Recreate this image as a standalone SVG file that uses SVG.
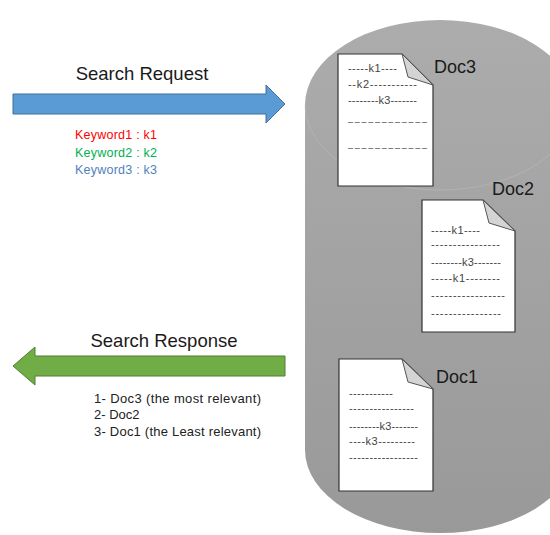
<svg xmlns="http://www.w3.org/2000/svg" width="550" height="535" viewBox="0 0 550 535">
  <defs>
    <linearGradient id="drum" x1="0" y1="0" x2="0" y2="1">
      <stop offset="0" stop-color="#acacac"/>
      <stop offset="1" stop-color="#999999"/>
    </linearGradient>
  </defs>
  <style>
    .title { font-family: "Liberation Sans", Arial, sans-serif; font-size: 18.5px; fill: #1a1a1a; }
    .kw { font-family: "Liberation Sans", Arial, sans-serif; font-size: 12.5px; }
    .list { font-family: "Liberation Sans", Arial, sans-serif; font-size: 13px; fill: #222; }
    .page { fill: #ffffff; stroke: #333333; stroke-width: 1.2; }
    .fold { fill: #d4d4d4; stroke: #555555; stroke-width: 1; }
    .line { font-family: "Liberation Sans", Arial, sans-serif; font-size: 11px; fill: #444; }
    .rule { font-family: "Liberation Sans", Arial, sans-serif; font-size: 9px; fill: #444; }
    .label { font-family: "Liberation Sans", Arial, sans-serif; font-size: 18px; fill: #1a1a1a; }
  </style>

  <!-- storage drum -->
  <g id="store">
    <path d="M305,105 A135,85 0 0 1 575,105 V450 A135,83 0 0 1 305,450 Z" fill="url(#drum)"/>
    <path d="M305,105 A135,85 0 0 0 575,105" fill="none" stroke="#bdbdbd" stroke-width="1" opacity="0.5"/>
  </g>

  <!-- arrows -->
  <g id="connectors">
    <path id="request-arrow" d="M13,94 H266 V85 L285,104 L266,123 V114 H13 Z" fill="#5b9bd5" stroke="#41719c" stroke-width="1"/>
    <path id="response-arrow" d="M285,356 H35 V347 L13,366 L35,385 V376 H285 Z" fill="#70ad47" stroke="#507e32" stroke-width="1"/>
  </g>

  <g id="request-label">
    <text class="title" x="142" y="80" text-anchor="middle">Search Request</text>
    <text class="kw" x="75" y="139" fill="#ff0000" textLength="82" lengthAdjust="spacing">Keyword1 : k1</text>
    <text class="kw" x="75" y="157" fill="#00b050" textLength="82" lengthAdjust="spacing">Keyword2 : k2</text>
    <text class="kw" x="75" y="174" fill="#4f81bd" textLength="82" lengthAdjust="spacing">Keyword3 : k3</text>
  </g>

  <g id="response-label">
    <text class="title" x="164" y="347" text-anchor="middle">Search Response</text>
    <text class="list" x="94" y="403" textLength="167" lengthAdjust="spacing">1- Doc3 (the most relevant)</text>
    <text class="list" x="94" y="419">2- Doc2</text>
    <text class="list" x="94" y="436" textLength="167" lengthAdjust="spacing">3- Doc1 (the Least relevant)</text>
  </g>

  <!-- Doc3 -->
  <g id="doc3">
    <path class="page" d="M338,54 H402 L433,85 V186 H338 Z"/>
    <path class="fold" d="M402,54 L408,77 L433,85 Z"/>
    <text class="line" x="348" y="72" textLength="49" lengthAdjust="spacing">-----k1----</text>
    <text class="line" x="348" y="88" textLength="69" lengthAdjust="spacing">--k2-----------</text>
    <text class="line" x="348" y="104" textLength="69" lengthAdjust="spacing">--------k3-------</text>
    <text class="rule" x="348" y="125" textLength="79" lengthAdjust="spacing">––––––––––––</text>
    <text class="rule" x="348" y="151" textLength="79" lengthAdjust="spacing">––––––––––––</text>
    <text class="label" x="434" y="73">Doc3</text>
  </g>

  <!-- Doc2 -->
  <g id="doc2">
    <path class="page" d="M422,200 H483 L515,231 V332 H422 Z"/>
    <path class="fold" d="M483,200 L489,223 L515,231 Z"/>
    <text class="line" x="431" y="234" textLength="49" lengthAdjust="spacing">-----k1----</text>
    <text class="line" x="431" y="248" textLength="69" lengthAdjust="spacing">----------------</text>
    <text class="line" x="431" y="266" textLength="70" lengthAdjust="spacing">--------k3-------</text>
    <text class="line" x="431" y="282" textLength="69" lengthAdjust="spacing">-----k1--------</text>
    <text class="line" x="431" y="299" textLength="74" lengthAdjust="spacing">-----------------</text>
    <text class="line" x="431" y="317" textLength="70" lengthAdjust="spacing">----------------</text>
    <text class="label" x="492" y="195">Doc2</text>
  </g>

  <!-- Doc1 -->
  <g id="doc1">
    <path class="page" d="M339,359 H402 L433,389 V491 H339 Z"/>
    <path class="fold" d="M402,359 L408,382 L433,389 Z"/>
    <text class="line" x="349" y="397" textLength="44" lengthAdjust="spacing">-----------</text>
    <text class="line" x="349" y="412" textLength="65" lengthAdjust="spacing">----------------</text>
    <text class="line" x="349" y="430" textLength="69" lengthAdjust="spacing">--------k3-------</text>
    <text class="line" x="349" y="445" textLength="66" lengthAdjust="spacing">----k3---------</text>
    <text class="line" x="349" y="461" textLength="69" lengthAdjust="spacing">-----------------</text>
    <text class="label" x="436" y="383">Doc1</text>
  </g>
</svg>
